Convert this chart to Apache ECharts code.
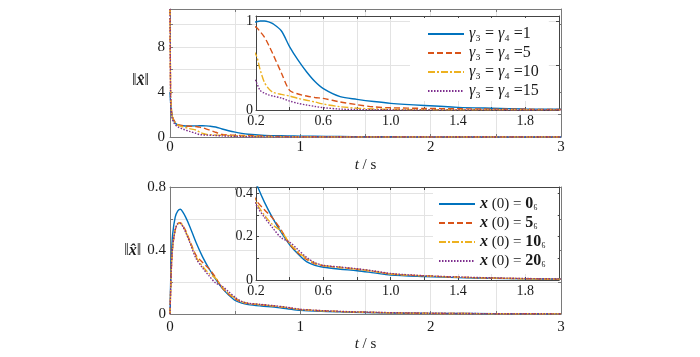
<!DOCTYPE html>
<html><head><meta charset="utf-8">
<script src="https://cdn.jsdelivr.net/npm/echarts@6/dist/echarts.min.js"></script>
<style>html,body{margin:0;padding:0;background:#fff}#c{width:700px;height:357px}</style>
</head><body><div id="c"></div>
<script>
// ---- data ----
const tTop = [0, 0.005, 0.01, 0.02, 0.04, 0.06, 0.1, 0.15, 0.2, 0.225, 0.25, 0.275, 0.3, 0.35, 0.4, 0.45, 0.5, 0.55, 0.6, 0.7, 0.8, 0.9, 1.0, 1.2, 1.4, 1.6, 1.8, 2.0, 2.5, 3.0];
const normG1  = [4.0, 3.0, 2.4, 1.7, 1.25, 1.08, 1.0, 0.98, 0.99, 1.0, 1.0, 0.99, 0.97, 0.89, 0.71, 0.56, 0.43, 0.32, 0.24, 0.15, 0.12, 0.095, 0.075, 0.05, 0.03, 0.02, 0.012, 0.008, 0.004, 0.002];
const normG5  = [11.4, 4.0, 2.6, 1.8, 1.3, 1.1, 1.0, 0.96, 0.93, 0.88, 0.82, 0.73, 0.63, 0.42, 0.22, 0.18, 0.157, 0.14, 0.13, 0.09, 0.06, 0.035, 0.025, 0.018, 0.014, 0.01, 0.008, 0.006, 0.003, 0.001];
const normG10 = [11.4, 3.5, 2.4, 1.7, 1.25, 1.05, 0.9, 0.75, 0.62, 0.45, 0.31, 0.24, 0.2, 0.175, 0.157, 0.13, 0.11, 0.09, 0.067, 0.037, 0.02, 0.012, 0.007, 0.004, 0.003, 0.002, 0.002, 0.001, 0.001, 0.0];
const normG15 = [11.4, 3.0, 2.2, 1.5, 1.1, 0.9, 0.7, 0.5, 0.32, 0.22, 0.19, 0.17, 0.157, 0.135, 0.1, 0.075, 0.056, 0.04, 0.026, 0.01, 0.005, 0.003, 0.002, 0.001, 0.001, 0.001, 0.0, 0.0, 0.0, 0.0];
const gammaValues = [1, 5, 10, 15];

const tBot = [0, 0.005, 0.01, 0.02, 0.04, 0.06, 0.08, 0.1, 0.12, 0.15, 0.2, 0.25, 0.3, 0.35, 0.4, 0.45, 0.5, 0.55, 0.6, 0.7, 0.8, 0.9, 1.0, 1.2, 1.4, 1.6, 1.8, 2.0, 2.5, 3.0];
const normX0  = [0, 0.2, 0.35, 0.5, 0.61, 0.65, 0.66, 0.64, 0.61, 0.555, 0.45, 0.36, 0.285, 0.22, 0.163, 0.12, 0.085, 0.068, 0.059, 0.05, 0.043, 0.033, 0.023, 0.016, 0.011, 0.008, 0.005, 0.004, 0.002, 0.001];
const normX5  = [0, 0.15, 0.28, 0.42, 0.53, 0.57, 0.575, 0.555, 0.525, 0.465, 0.37, 0.325, 0.285, 0.23, 0.165, 0.125, 0.095, 0.075, 0.066, 0.058, 0.05, 0.04, 0.028, 0.019, 0.013, 0.009, 0.006, 0.004, 0.002, 0.001];
const normX10 = [0, 0.15, 0.28, 0.42, 0.53, 0.57, 0.572, 0.552, 0.52, 0.46, 0.36, 0.3, 0.255, 0.225, 0.17, 0.13, 0.1, 0.078, 0.067, 0.058, 0.05, 0.04, 0.028, 0.019, 0.013, 0.009, 0.006, 0.004, 0.002, 0.001];
const normX20 = [0, 0.15, 0.28, 0.42, 0.53, 0.568, 0.57, 0.548, 0.515, 0.455, 0.35, 0.29, 0.24, 0.195, 0.175, 0.14, 0.105, 0.08, 0.068, 0.06, 0.052, 0.042, 0.03, 0.02, 0.014, 0.01, 0.007, 0.005, 0.002, 0.001];
const x0Values = [0, 5, 10, 20];

const mainXTicks = [0, 1, 2, 3];
const insetXTicks = [0.2, 0.6, 1.0, 1.4, 1.8];
const topYTicks = [0, 4, 8];
const topInsetYTicks = [0, 1];
const botYTicks = [0, 0.4, 0.8];
const botInsetYTicks = [0, 0.2, 0.4];

// ---- styles ----
const colors = ['#0072BD', '#D95319', '#EDB120', '#7E2F8E'];
const dashes = ['solid', [6, 3], [7, 2, 2, 2], [1.5, 1.5]];
const FONT = '"Liberation Serif", "Times New Roman", serif';
const TC = '#1a1a1a';
const near = (v, list) => list.some(x => Math.abs(x - v) < 1e-6);
const fmtList = (list, dec) => v => near(v, list) ? (dec ? v.toFixed(dec) : String(Math.round(v * 10) / 10)) : '';

const gridDefs = [
  {left: 170, top: 9,   width: 391, height: 128, z: 0, show: false},
  {left: 256, top: 16,  width: 303, height: 94,  z: 3, show: true, backgroundColor: '#fff', borderWidth: 0},
  {left: 170, top: 187, width: 391, height: 127, z: 0, show: false},
  {left: 256, top: 187, width: 303, height: 93,  z: 3, show: true, backgroundColor: '#fff', borderWidth: 0}
];

const xAxes = [], yAxes = [];
function addX(g, min, max, interval, ticks, dec, inset, name, nameGap, margin) {
  const lc = inset ? '#444' : '#7a7a7a';
  const z = inset ? 4 : 0;
  xAxes.push({type: 'value', gridIndex: g, min, max, interval, position: 'bottom', z,
    axisLine: {show: true, onZero: false, lineStyle: {color: lc, width: 1}},
    axisTick: {show: true, inside: true, length: 3, lineStyle: {color: lc}},
    splitLine: {show: true, lineStyle: {color: '#e3e3e3', width: 1}},
    axisLabel: {show: true, margin, color: TC, fontFamily: FONT, fontSize: inset ? 14 : 15, formatter: fmtList(ticks, dec), showMaxLabel: true, showMinLabel: true},
    name: name || '', nameLocation: 'middle', nameGap: nameGap || 0,
    nameTextStyle: {fontFamily: FONT, fontSize: 15, color: TC, rich: {i: {fontFamily: FONT, fontStyle: 'italic', fontSize: 15, color: TC}}}
  });
  xAxes.push({type: 'value', gridIndex: g, min, max, interval, position: 'top', z,
    axisLine: {show: true, onZero: false, lineStyle: {color: lc, width: 1}},
    axisTick: {show: true, inside: true, length: 3, lineStyle: {color: lc}},
    splitLine: {show: false}, axisLabel: {show: false}});
}
function addY(g, min, max, interval, ticks, inset, name, nameGap, namePad, margin) {
  const lc = inset ? '#444' : '#7a7a7a';
  const z = inset ? 4 : 0;
  yAxes.push({type: 'value', gridIndex: g, min, max, interval, position: 'left', z,
    axisLine: {show: true, onZero: false, lineStyle: {color: lc, width: 1}},
    axisTick: {show: true, inside: true, length: 3, lineStyle: {color: lc}},
    splitLine: {show: true, lineStyle: {color: '#e3e3e3', width: 1}},
    axisLabel: {show: true, margin, color: TC, fontFamily: FONT, fontSize: inset ? 14 : 15, formatter: fmtList(ticks, 0), showMaxLabel: true},
    name: name || '', nameLocation: 'middle', nameGap: nameGap || 0, nameRotate: 0,
    nameTextStyle: {fontFamily: FONT, fontSize: 16, color: TC, padding: namePad || 0,
      rich: {b: {fontFamily: FONT, fontStyle: 'italic', fontWeight: 'bold', fontSize: 16, color: TC}}}
  });
  yAxes.push({type: 'value', gridIndex: g, min, max, interval, position: 'right', z,
    axisLine: {show: true, onZero: false, lineStyle: {color: lc, width: 1}},
    axisTick: {show: true, inside: true, length: 3, lineStyle: {color: lc}},
    splitLine: {show: false}, axisLabel: {show: false}});
}
const yName = '‖{b|x̂}‖';
const xName = '{i|t} / s';
addX(0, 0, 3, 0.5, mainXTicks, 0, false, xName, 21, 3);
addX(1, 0.2, 2.0, 0.2, insetXTicks, 1, true, '', 0, 4);
addX(2, 0, 3, 0.5, mainXTicks, 0, false, xName, 23, 6);
addX(3, 0.2, 2.0, 0.2, insetXTicks, 1, true, '', 0, 4);
addY(0, 0, 11.4, 2, topYTicks, false, yName, 21, [16, 0, 0, 0], 5);
addY(1, 0, 1.056, 0.5, topInsetYTicks, true, '', 0, 0, 3);
addY(2, 0, 0.8, 0.2, botYTicks, false, yName, 22, 0, 4);
addY(3, 0, 0.43, 0.1, botInsetYTicks, true, '', 0, 0, 3);

const topNames = gammaValues.map(v => 'γ₃ = γ₄ =' + v);
const botNames = x0Values.map(v => 'x (0) = ' + v + '₆');
const topData = [normG1, normG5, normG10, normG15];
const botData = [normX0, normX5, normX10, normX20];

const series = [];
function addSeries(g, names, ts, data, z) {
  data.forEach((vals, k) => {
    series.push({type: 'line', name: names[k], xAxisIndex: 2 * g, yAxisIndex: 2 * g,
      data: ts.map((t, i) => [t, vals[i]]), symbol: 'none', smooth: 0.3, clip: true, z,
      lineStyle: {color: colors[k], width: 1.4, type: dashes[k]}, itemStyle: {color: colors[k]}});
  });
}
addSeries(0, topNames, tTop, topData, 2);
addSeries(1, topNames, tTop, topData, 5);
addSeries(2, botNames, tBot, botData, 2);
addSeries(3, botNames, tBot, botData, 5);

const legendBase = {orient: 'vertical', itemWidth: 36, itemHeight: 12, backgroundColor: '#fff', z: 10,
  selectedMode: false, itemStyle: {opacity: 0, borderWidth: 0}};
const option = {
  animation: false,
  backgroundColor: '#fff',
  grid: gridDefs,
  xAxis: xAxes,
  yAxis: yAxes,
  series,
  legend: [
    Object.assign({}, legendBase, {data: topNames, left: 410, top: 18, itemGap: 3, padding: [8, 10, 2, 17],
      textStyle: {fontFamily: FONT, fontSize: 16, lineHeight: 15, color: TC, rich: {g: {fontFamily: FONT, fontStyle: 'italic', fontSize: 16, lineHeight: 15, color: TC}}},
      formatter: n => n.replace(/γ/g, '{g|γ}')}),
    Object.assign({}, legendBase, {data: botNames, left: 433, top: 188, itemGap: 3, padding: [8, 12, 5, 5],
      textStyle: {fontFamily: FONT, fontSize: 15, lineHeight: 15, color: TC,
        rich: {bx: {fontFamily: FONT, fontStyle: 'italic', fontWeight: 'bold', fontSize: 16, lineHeight: 15, color: TC},
               b: {fontFamily: FONT, fontWeight: 'bold', fontSize: 16, lineHeight: 15, color: TC},
               s: {fontFamily: FONT, fontSize: 13, lineHeight: 15, color: TC}}},
      formatter: n => { const m = n.match(/= (\d+)₆/); return '{bx|x} (0) = {b|' + m[1] + '}{s|₆}'; }})
  ]
};
const chart = echarts.init(document.getElementById('c'), null, {renderer: 'canvas'});
chart.setOption(option);
</script></body></html>
